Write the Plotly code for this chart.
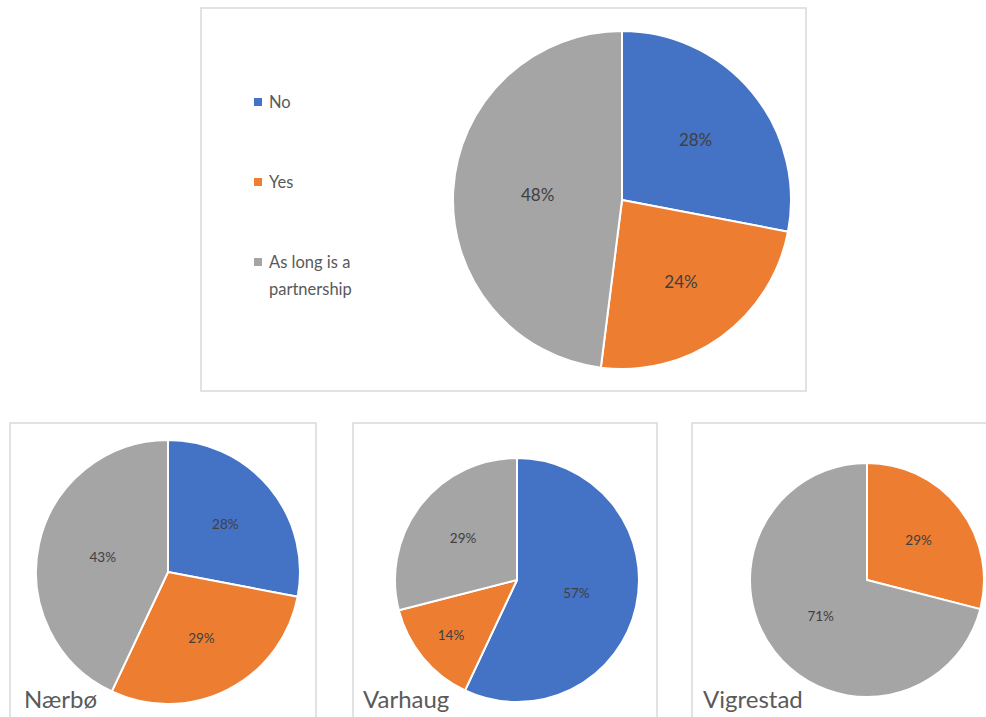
import plotly.graph_objects as go

# ---------------- data ----------------
categories = ["No", "Yes", "As long is a<br>partnership"]
colors = ["#4472C4", "#ED7D31", "#A5A5A5"]

total_values = [28, 24, 48]
places = ["Nærbø", "Varhaug", "Vigrestad"]
naerbo_values = [28, 29, 43]
varhaug_values = [57, 14, 29]
vigrestad_values = [0, 29, 71]

W, H = 986, 717
FONT = "Lato, 'Open Sans', sans-serif"
TXT = "#404040"
LEG = "#595959"


def px_x(x):
    return x / W


def px_y(y):
    return 1 - y / H


def dom(cx, cy, r):
    return dict(x=[px_x(cx - r), px_x(cx + r)], y=[px_y(cy + r), px_y(cy - r)])


def pie(values, cx, cy, r, size):
    txt = [f"{v}%" if v > 0 else "" for v in values]
    return go.Pie(
        labels=categories,
        values=values,
        text=txt,
        textinfo="text",
        textposition="inside",
        insidetextorientation="horizontal",
        sort=False,
        direction="clockwise",
        rotation=0,
        marker=dict(colors=colors, line=dict(color="white", width=2)),
        textfont=dict(family=FONT, size=size, color=TXT),
        domain=dom(cx, cy, r),
        showlegend=False,
        hoverinfo="label+percent",
    )


fig = go.Figure()
fig.add_trace(pie(total_values, 622, 200, 169, 17))
fig.add_trace(pie(naerbo_values, 168, 572, 132, 13.5))
fig.add_trace(pie(varhaug_values, 517, 580, 122, 13.5))
fig.add_trace(pie(vigrestad_values, 867, 580, 117, 13.5))

shapes = []
annotations = []

# panel borders
border = dict(color="#D9D9D9", width=1.5)
for (x0, y0, x1, y1) in [(201, 8, 806, 391), (10, 423, 316, 740),
                         (353, 423, 657, 740), (692, 423, 1000, 740)]:
    shapes.append(dict(type="rect", xref="paper", yref="paper",
                       x0=px_x(x0), x1=px_x(x1), y0=px_y(y1), y1=px_y(y0),
                       line=border, fillcolor="rgba(0,0,0,0)", layer="below"))

# manual legend for the overall pie
leg_y = [102, 182, 262]
LINE_GAP = 27
for cat, col, y in zip(categories, colors, leg_y):
    shapes.append(dict(type="rect", xref="paper", yref="paper",
                       x0=px_x(254), x1=px_x(262), y0=px_y(y + 4), y1=px_y(y - 4),
                       line=dict(width=0), fillcolor=col))
    for i, line in enumerate(cat.split("<br>")):
        annotations.append(dict(text=line, xref="paper", yref="paper",
                                x=px_x(267), y=px_y(y + i * LINE_GAP), xanchor="left",
                                yanchor="middle", align="left", showarrow=False,
                                font=dict(family=FONT, size=16.5, color=LEG)))

# place names
for name, x in zip(places, [22, 361, 701]):
    annotations.append(dict(text=name, xref="paper", yref="paper",
                            x=px_x(x), y=px_y(698), xanchor="left", yanchor="middle",
                            showarrow=False,
                            font=dict(family=FONT, size=24, color="#5A5A5A")))

fig.update_layout(
    width=W, height=H,
    margin=dict(l=0, r=0, t=0, b=0),
    paper_bgcolor="white",
    plot_bgcolor="white",
    shapes=shapes,
    annotations=annotations,
)

fig.write_html("out.html")
